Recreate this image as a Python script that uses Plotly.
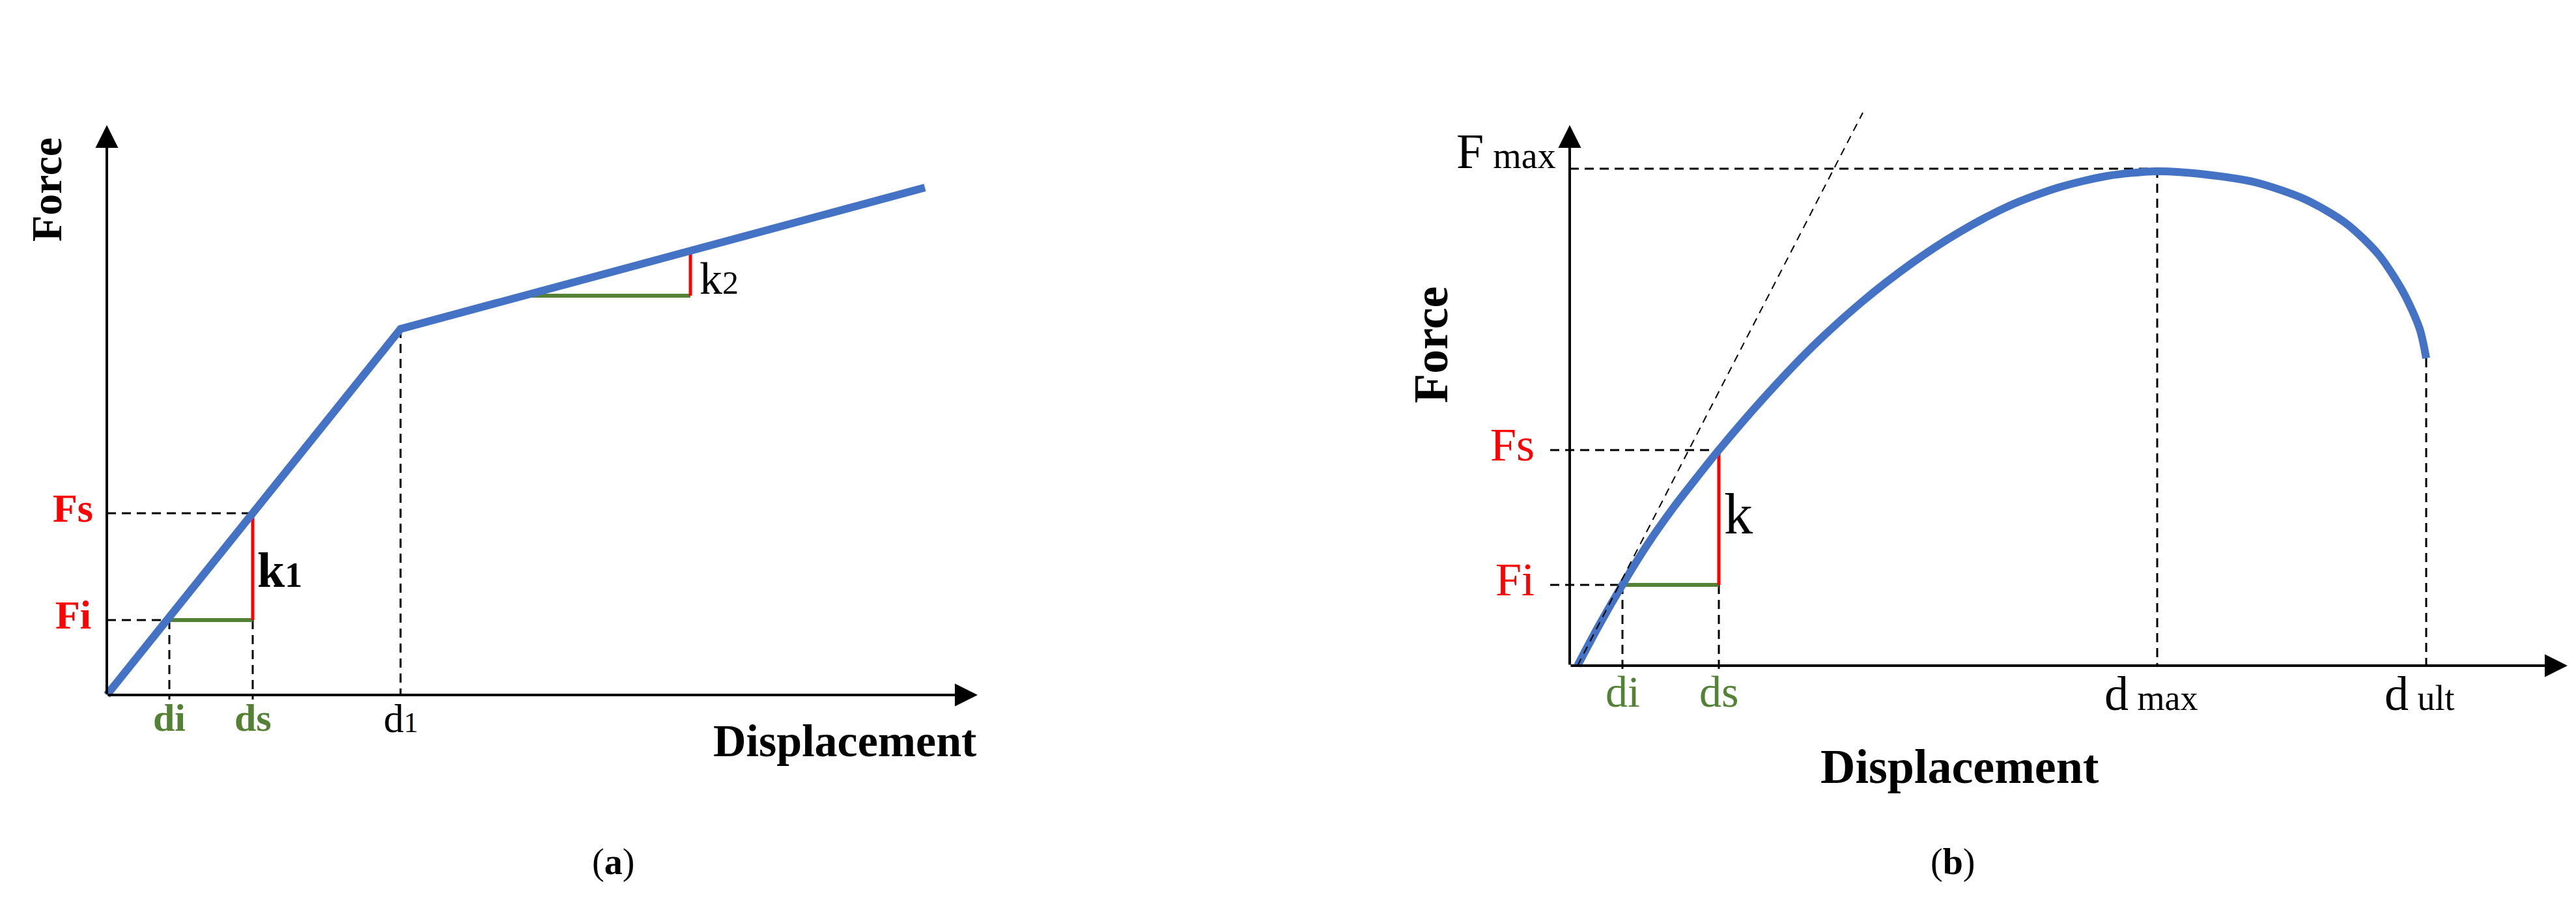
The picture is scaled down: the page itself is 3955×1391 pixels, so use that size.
import plotly.graph_objects as go

# (a) bilinear curve
a_disp = [0.0, 4.51, 12.56]
a_force = [0.0, 5.62, 7.79]
a_d1, a_F1 = 4.51, 5.62
a_di, a_ds = 0.96, 2.24
a_Fi, a_Fs = 1.15, 2.79
a_k2_x = [6.46, 8.96]
a_k2_y = [6.13, 6.82]
a_xmax, a_ymax = 13.37, 8.75

# (b) nonlinear curve
b_disp = [0.12, 0.44, 0.82, 1.20, 1.58, 1.96, 2.28, 2.97, 3.72, 4.48, 5.24,
          5.99, 6.75, 7.50, 8.26, 9.02, 9.77, 10.53, 11.29, 11.92, 12.42,
          12.80, 13.05, 13.15]
b_force = [0.00, 0.60, 1.26, 1.87, 2.41, 2.90, 3.30, 4.10, 4.89, 5.58, 6.17,
           6.66, 7.06, 7.34, 7.52, 7.59, 7.54, 7.42, 7.16, 6.79, 6.31,
           5.73, 5.17, 4.72]
b_di, b_ds = 0.81, 2.29
b_Fi, b_Fs = 1.24, 3.31
b_dmax, b_Fmax = 9.02, 7.63
b_dult, b_Fult = 13.15, 4.72
tan_x = [0.12, 4.50]
tan_y = [0.0, 8.49]
b_xmax, b_ymax = 15.32, 8.30

BLUE = "#4472C4"
RED = "#FF0000"
GREEN = "#548235"
FONT = "Liberation Serif"
DASH = "14px,9px"


def seg(x, y, color="black", width=3, dash=None, sub=""):
    return go.Scatter(x=x, y=y, mode="lines", xaxis="x" + sub, yaxis="y" + sub,
                      line=dict(color=color, width=width, dash=dash),
                      hoverinfo="skip", showlegend=False)


traces = [
    # panel a guides
    seg([0, a_di], [a_Fi, a_Fi], dash=DASH),
    seg([0, a_ds], [a_Fs, a_Fs], dash=DASH),
    seg([a_di, a_di], [a_Fi, -0.07], dash=DASH),
    seg([a_ds, a_ds], [a_Fi, -0.07], dash=DASH),
    seg([a_d1, a_d1], [a_F1, 0], dash=DASH),
    seg([a_di, a_ds], [a_Fi, a_Fi], GREEN, 6),
    seg([a_ds, a_ds], [a_Fi, a_Fs], RED, 5),
    seg(a_k2_x, [a_k2_y[0], a_k2_y[0]], GREEN, 6),
    seg([a_k2_x[1], a_k2_x[1]], a_k2_y, RED, 5),
    seg(a_disp, a_force, BLUE, 12),
    # panel b guides
    seg([-0.30, b_di], [b_Fi, b_Fi], dash=DASH, sub="2"),
    seg([-0.30, b_ds], [b_Fs, b_Fs], dash=DASH, sub="2"),
    seg([0, b_dmax], [b_Fmax, b_Fmax], dash=DASH, sub="2"),
    seg([b_di, b_di], [b_Fi, -0.07], dash=DASH, sub="2"),
    seg([b_ds, b_ds], [b_Fi, -0.07], dash=DASH, sub="2"),
    seg([b_dmax, b_dmax], [b_Fmax, 0], dash=DASH, sub="2"),
    seg([b_dult, b_dult], [b_Fult, 0], dash=DASH, sub="2"),
    seg([b_di, b_ds], [b_Fi, b_Fi], GREEN, 6, sub="2"),
    seg([b_ds, b_ds], [b_Fi, b_Fs], RED, 5, sub="2"),
]
blue_b = seg(b_disp, b_force, BLUE, 12, sub="2")
blue_b.line.shape = "spline"
blue_b.line.smoothing = 0.8
traces.append(blue_b)
traces.append(seg(tan_x, tan_y, width=2, dash="12px,9px", sub="2"))

fig = go.Figure(traces)


def axis_arrow(x, y, sub=""):
    return dict(x=x, y=y, ax=0, ay=0, xref="x" + sub, yref="y" + sub,
                axref="x" + sub, ayref="y" + sub, text="", showarrow=True,
                arrowhead=2, arrowsize=1.75, arrowwidth=4, arrowcolor="black")


def label(text, x, y, size, color="black", sub="", xanchor="center",
          yanchor="middle", bold=False, angle=0, yshift=0, xshift=0):
    if bold:
        text = "<b>" + text + "</b>"
    return dict(text=text, x=x, y=y, xref="x" + sub, yref="y" + sub,
                showarrow=False, xanchor=xanchor, yanchor=yanchor,
                textangle=angle, yshift=yshift, xshift=xshift,
                font=dict(family=FONT, size=size, color=color))


small = "<span style='font-size:{}px'>{}</span>"

annotations = [
    axis_arrow(a_xmax, 0),
    axis_arrow(0, a_ymax),
    axis_arrow(b_xmax, 0, "2"),
    axis_arrow(0, b_ymax, "2"),
    # panel a labels
    label("Force", -0.93, 7.76, 66, bold=True, angle=-90),
    label("Displacement", a_xmax, -0.70, 70, bold=True, xanchor="right"),
    label("Fs", -0.19, a_Fs, 62, RED, xanchor="right", bold=True, yshift=8),
    label("Fi", -0.22, a_Fi, 62, RED, xanchor="right", bold=True, yshift=8),
    label("di", a_di, 0, 60, GREEN, yanchor="top", bold=True),
    label("ds", a_ds, 0, 60, GREEN, yanchor="top", bold=True),
    label("d" + small.format(44, "1"), a_d1, 0, 62, yanchor="top"),
    label("k" + small.format(54, "1"), a_ds + 0.05, (a_Fi + a_Fs) / 2 - 0.05,
          76, xanchor="left", bold=True),
    label("k" + small.format(50, "2"), a_k2_x[1] + 0.12, 6.40, 70,
          xanchor="left"),
    # panel b labels
    label("Force", -2.13, 4.92, 74, bold=True, angle=-90, sub="2"),
    label("Displacement", 5.99, -1.55, 74, bold=True, sub="2"),
    label("F" + small.format(56, " max"), -0.19, b_Fmax + 0.27, 76,
          xanchor="right", sub="2"),
    label("Fs", -0.52, b_Fs, 72, RED, xanchor="right", sub="2", yshift=8),
    label("Fi", -0.52, b_Fi, 72, RED, xanchor="right", sub="2", yshift=8),
    label("k", b_ds + 0.06, (b_Fi + b_Fs) / 2 + 0.05, 88, xanchor="left",
          sub="2"),
    label("di", b_di, 0, 68, GREEN, yanchor="top", sub="2"),
    label("ds", b_ds, 0, 68, GREEN, yanchor="top", sub="2"),
    label("d" + small.format(54, " max"), b_dmax, 0, 74, yanchor="top",
          sub="2", xshift=-10),
    label("d" + small.format(54, " ult"), b_dult - 0.1, 0, 74, yanchor="top",
          sub="2"),
    # panel captions
    dict(text="(<b>a</b>)", x=0.236, y=0.054, xref="paper", yref="paper",
         xanchor="center", yanchor="middle", showarrow=False,
         font=dict(family=FONT, size=56, color="black")),
    dict(text="(<b>b</b>)", x=0.756, y=0.054, xref="paper", yref="paper",
         xanchor="center", yanchor="middle", showarrow=False,
         font=dict(family=FONT, size=56, color="black")),
]

fig.update_layout(
    width=3955, height=1391,
    margin=dict(l=0, r=0, t=0, b=0),
    paper_bgcolor="white", plot_bgcolor="rgba(0,0,0,0)",
    showlegend=False,
    xaxis=dict(domain=[0, 0.5], range=[-1.56, 18.215], visible=False),
    yaxis=dict(domain=[0, 1], range=[-3.32, 10.59], visible=False),
    xaxis2=dict(domain=[0.5, 1], range=[-4.245, 15.53], anchor="y2",
                visible=False),
    yaxis2=dict(domain=[0, 1], range=[-3.77, 10.14], anchor="x2",
                visible=False),
    annotations=annotations,
)

fig.write_html("out.html")
